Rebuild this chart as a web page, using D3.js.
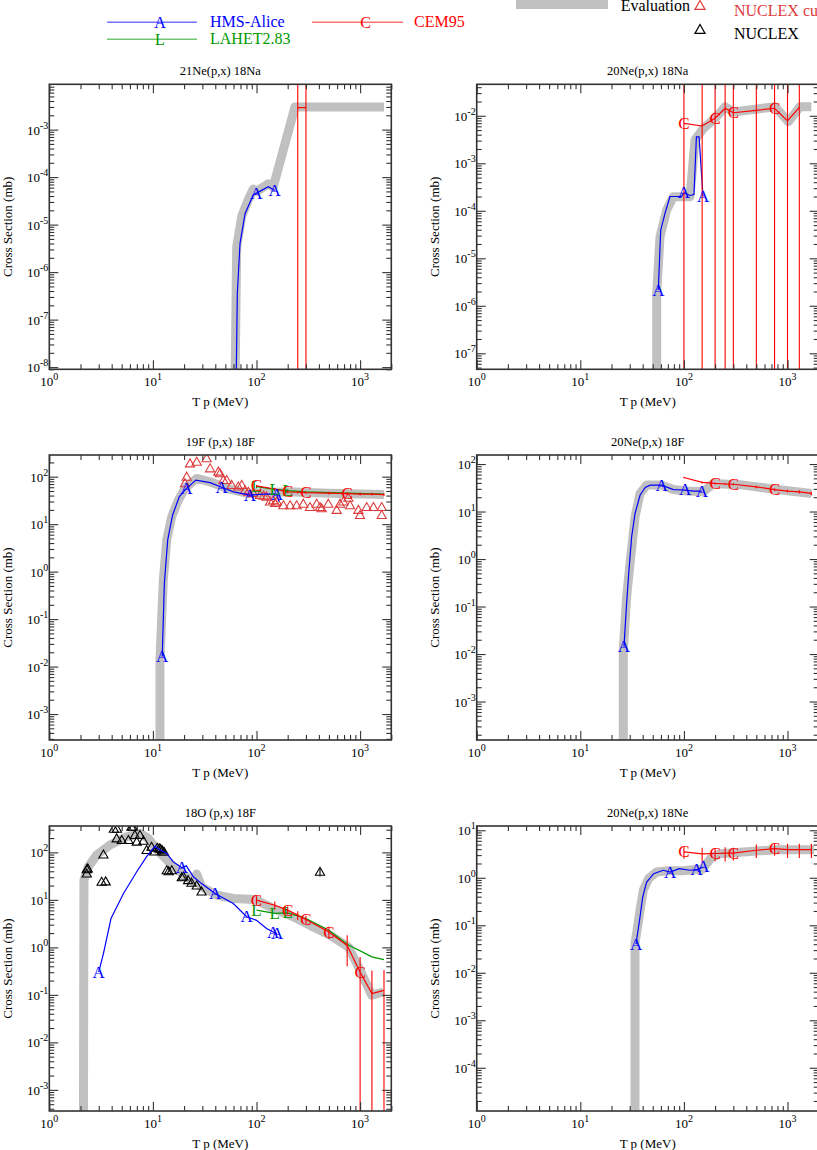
<!DOCTYPE html>
<html><head><meta charset="utf-8">
<script src="https://cdn.jsdelivr.net/npm/d3@7"></script>
<style>body{margin:0;background:#fff}svg{display:block}</style>
</head><body>
<svg id="chart" width="817" height="1150"></svg>
<script>
// ---------------- DATA ----------------
const xTickExps = [0, 1, 2, 3];
const cemE = [100, 150, 200, 250, 300, 500, 750, 1000, 1300, 1700];

// Panel 1: 21Ne(p,x) 18Na
const p1EvalE = [61.5, 64.4, 72, 83, 93, 100, 130, 145, 235, 1700];
const p1EvalY = [1e-9, 3.4e-6, 1.5e-5, 3.3e-5, 5.6e-5, 5e-5, 7.2e-5, 6.2e-5, 3.0e-3, 3.0e-3];
const p1HmsE = [63, 65.3, 69.3, 77.5, 93, 100, 130, 150];
const p1HmsY = [1e-9, 3.6e-7, 4e-6, 1.7e-5, 4.2e-5, 4.6e-5, 6.3e-5, 5.2e-5];
const p1HmsMk = [100, 150];
const p1CemE = [250, 300];
const p1CemY = [2.9e-3, 2.9e-3];
const p1CemErr = [0.05, 0.05];
const p1CemMk = [];

// Panel 2: 20Ne(p,x) 18Na
const p2EvalE = [54.6, 54.6, 58.8, 68.2, 79, 114.5, 128, 154, 200, 250, 300, 757, 1018, 1319, 1700];
const p2EvalY = [1e-9, 1.8e-6, 2.85e-5, 1.04e-4, 1.98e-4, 1.98e-4, 3.1e-3, 5.4e-3, 8.9e-3, 1.55e-2, 1.2e-2, 1.55e-2, 7.5e-3, 1.55e-2, 1.55e-2];
const p2HmsE = [56.6, 59.7, 65.7, 73.4, 85.2, 95, 100, 114.5, 125, 132, 140, 153];
const p2HmsY = [2.15e-6, 3.9e-5, 8.8e-5, 2.0e-4, 2.0e-4, 2.0e-4, 2.4e-4, 2.1e-4, 2.2e-4, 3.6e-3, 3.6e-3, 2.0e-4];
const p2HmsMk = [56.6, 100, 153];
const p2CemE = [100, 150, 200, 250, 300, 500, 750, 1000, 1300];
const p2CemY = [6.9e-3, 6.1e-3, 8.9e-3, 1.44e-2, 1.16e-2, 1.3e-2, 1.44e-2, 7.8e-3, 1.5e-2];
const p2CemErr = [0.1, 0.1, 0.1, 0.1, 0.1, 0.1, 0.1, 0.1, 0.1];
const p2CemMk = [100, 200, 300, 750];

// Panel 3: 19F (p,x) 18F
const p3EvalE = [11.7, 11.7, 12.6, 13.6, 15.2, 17.6, 20.4, 26.5, 35.6, 51.5, 80, 125, 200, 500, 1700];
const p3EvalY = [1e-5, 0.0138, 0.67, 4.66, 14.4, 32, 57, 92, 78, 57, 45, 46, 48, 45, 42];
const p3HmsE = [12.3, 12.9, 13.9, 15.5, 18, 21, 26, 35.6, 46, 60, 86.5, 116, 157, 165];
const p3HmsY = [0.0163, 0.57, 4.66, 15.6, 38, 56, 85, 75, 60, 48, 41, 43, 43, 30];
const p3HmsMk = [12.3, 21, 46, 86.5, 157];
const p3NucE = [20.4, 21.2, 22.8, 26.5, 33, 35.6, 42.8, 44.4, 47.9, 51.5, 57.6, 66.8, 72, 77.5, 83.4, 93, 108, 117, 125, 135, 145, 152, 157, 182, 211, 244, 283, 328, 381, 410, 426, 493, 594, 640, 689, 770, 800, 962, 998, 1158, 1344, 1616, 1616];
const p3NucY = [73, 100, 191, 207, 244, 150, 128, 118, 85, 85, 67, 62, 67, 52, 48, 45, 41, 40, 38, 30, 32, 28, 30, 25, 25, 25, 27, 23, 27, 23, 21.6, 27, 20, 27, 30, 36, 25, 20, 15.6, 23, 23, 23, 15.6];
const p3LahE = [100, 150, 200, 300, 750, 1700];
const p3LahY = [62, 54, 51, 48, 45, 43];
const p3LahErr = [5, 4.5, 4, 0, 0, 0];
const p3LahMk = [100, 150, 200];
const p3CemY = [64, 55, 48, 47, 46, 45, 44, 43, 43, 42];
const p3CemErr = [3, 3, 3, 3, 3, 3, 3, 3, 3, 3];
const p3CemMk = [100, 200, 300, 750];

// Panel 4: 20Ne(p,x) 18F
const p4EvalE = [26, 26, 28, 30.2, 33.8, 37.7, 43.7, 61, 79, 106, 154, 192, 374, 787, 1700];
const p4EvalY = [1e-5, 0.0122, 0.16, 0.81, 7.8, 24, 36, 36, 29, 27, 26, 39, 36, 29, 24];
const p4HmsE = [26.4, 28, 29.5, 31.3, 33.8, 37.7, 42.3, 47.3, 61, 79, 102.6, 123, 149];
const p4HmsY = [0.0143, 0.117, 0.59, 2.95, 9.2, 22, 32, 36, 36, 29, 28.4, 27, 27];
const p4HmsMk = [26.4, 61, 102.6, 149];
const p4CemY = [52, 41, 39, 38, 37.5, 33, 29, 27, 26, 24];
const p4CemErr = [2, 2, 2, 2, 2, 2, 2, 2, 2, 2];
const p4CemMk = [200, 300, 750];

// Panel 5: 18O (p,x) 18F
const p5EvalE = [2.13, 2.16, 2.38, 2.87, 3.85, 5.6, 7.5, 9.0, 10.9, 14.6, 21.2, 24.6, 26.5, 29.5, 41.3, 59.7, 96.8, 145, 227, 353, 512, 771, 1000, 1295, 1675];
const p5EvalY = [1e-5, 26, 50, 88, 143, 213, 252, 197, 116, 59, 30, 24, 35, 18.8, 12.6, 10.7, 10.2, 6.6, 4.4, 2.7, 1.8, 1.02, 0.33, 0.098, 0.115];
const p5HmsE = [3.0, 3.33, 3.94, 5.2, 6.98, 8.7, 10.5, 11.7, 13.6, 15.7, 19, 21, 24.6, 29.5, 39.8, 59.7, 80.4, 100, 125, 145, 158];
const p5HmsY = [0.3, 0.74, 4.05, 13.6, 39, 81, 135, 112, 95, 63, 48, 52, 30.6, 22, 13.6, 8.4, 4.4, 3.7, 2.5, 2.1, 1.95];
const p5HmsMk = [3.0, 19, 39.8, 80.4, 145, 158];
const p5NucE = [2.3, 2.35, 2.3, 3.2, 3.5, 3.33, 4.2, 4.5, 4.47, 5.0, 5.8, 6.2, 6.4, 6.7, 6.98, 7.5, 8.1, 8.7, 9.7, 10.3, 11, 11.5, 11.9, 12.3, 12.8, 13.6, 14.2, 15.2, 19, 19.7, 21.9, 23.6, 26.5, 29.5, 410];
const p5NucY = [36, 46, 44, 24, 24.5, 90, 315, 315, 197, 182, 182, 345, 345, 232, 168, 232, 176, 112, 131, 104, 125, 122, 118, 110, 103, 42, 40, 42, 30, 31, 26, 23, 20, 15, 39];
const p5NucErr = [0, 0, 0, 0, 0, 0, 0, 0, 0, 0, 0, 0, 0, 0, 0, 0, 0, 0, 0, 0, 0, 0, 0, 0, 0, 0, 0, 0, 0, 0, 0, 0, 0, 0, 8];
const p5LahE = [100, 150, 200, 300, 500, 750, 1300, 1700];
const p5LahY = [6.07, 5.2, 5.3, 4.06, 2.3, 1.16, 0.63, 0.55];
const p5LahMk = [100, 150, 200];
const p5CemY = [9.9, 7.7, 6.07, 4.75, 3.85, 2.1, 1.1, 0.30, 0.106, 0.124];
const p5CemErr = [2.0, 1.5, 1.2, 1.0, 0.8, 0.6, 0.7, 0.33, 0.22, 0.21];
const p5CemMk = [100, 200, 300, 500, 1000];

// Panel 6: 20Ne(p,x) 18Ne
const p6EvalE = [33.7, 33.7, 37.7, 40.6, 45.6, 54.6, 71, 98, 128, 150, 185, 222, 374, 787, 1800];
const p6EvalY = [1e-6, 0.041, 0.207, 0.55, 0.96, 1.32, 1.4, 1.4, 1.5, 1.5, 2.7, 3.2, 3.5, 3.9, 3.9];
const p6HmsE = [34.5, 37.7, 40, 43.7, 51, 63, 73.5, 90, 114, 133, 154];
const p6HmsY = [0.04, 0.15, 0.39, 0.81, 1.22, 1.44, 1.32, 1.56, 1.44, 1.48, 1.69];
const p6HmsMk = [34.5, 73.5, 133, 154];
const p6CemY = [3.5, 3.2, 3.24, 3.3, 3.3, 3.8, 4.1, 3.9, 3.9, 3.9];
const p6CemErr = [1.0, 1.1, 1.0, 1.1, 1.0, 1.2, 1.2, 1.3, 1.3, 1.3];
const p6CemMk = [100, 200, 300, 750];

const titles = ["21Ne(p,x) 18Na", "20Ne(p,x) 18Na", "19F (p,x) 18F", "20Ne(p,x) 18F", "18O (p,x) 18F", "20Ne(p,x) 18Ne"];
const yExpRanges = [[-8.046, -2.046], [-7.337, -1.337], [-3.547, 2.457], [-3.81, 2.19], [-3.445, 2.555], [-4.91, 1.09]];

// ---------------- STYLE / LAYOUT ----------------
const FONT = "'Liberation Serif','Times New Roman',serif";
const C_BLUE = "#0000ff", C_RED = "#ff0000", C_GREEN = "#009900", C_GREY = "#c0c0c0", C_NUC = "#dc3c3c";
const W = 342, H = 285;
const lefts = [49.3, 476.7], tops = [84.3, 455, 826];

const zip = (a, b) => a.map((v, i) => [v, b[i]]);

const panels = [
  {evalD: zip(p1EvalE, p1EvalY), hms: {d: zip(p1HmsE, p1HmsY), mk: p1HmsMk},
   cem: {d: zip(p1CemE, p1CemY), err: p1CemErr, mk: p1CemMk}},
  {evalD: zip(p2EvalE, p2EvalY), hms: {d: zip(p2HmsE, p2HmsY), mk: p2HmsMk},
   cem: {d: zip(p2CemE, p2CemY), err: p2CemErr, mk: p2CemMk}},
  {evalD: zip(p3EvalE, p3EvalY), hms: {d: zip(p3HmsE, p3HmsY), mk: p3HmsMk},
   nuc: {d: zip(p3NucE, p3NucY), color: C_NUC},
   lah: {d: zip(p3LahE, p3LahY), err: p3LahErr, mk: p3LahMk},
   cem: {d: zip(cemE, p3CemY), err: p3CemErr, mk: p3CemMk}},
  {evalD: zip(p4EvalE, p4EvalY), hms: {d: zip(p4HmsE, p4HmsY), mk: p4HmsMk},
   cem: {d: zip(cemE, p4CemY), err: p4CemErr, mk: p4CemMk}},
  {evalD: zip(p5EvalE, p5EvalY), hms: {d: zip(p5HmsE, p5HmsY), mk: p5HmsMk},
   nuc: {d: zip(p5NucE, p5NucY), err: p5NucErr, color: "#000"},
   lah: {d: zip(p5LahE, p5LahY), mk: p5LahMk},
   cem: {d: zip(cemE, p5CemY), err: p5CemErr, mk: p5CemMk}},
  {evalD: zip(p6EvalE, p6EvalY), hms: {d: zip(p6HmsE, p6HmsY), mk: p6HmsMk},
   cem: {d: zip(cemE, p6CemY), err: p6CemErr, mk: p6CemMk}}
];

const svg = d3.select("#chart");
const defs = svg.append("defs");

function logTicks(lo, hi) {
  const major = [], minor = [];
  for (let d = Math.floor(Math.log10(lo)) - 1; d <= Math.ceil(Math.log10(hi)); d++) {
    for (let m = 1; m < 10; m++) {
      const v = m * Math.pow(10, d);
      if (v >= lo * 0.9999 && v <= hi * 1.0001) (m === 1 ? major : minor).push(v);
    }
  }
  return {major, minor};
}

const triPath = "M0,-4.5L4.6,3.5L-4.6,3.5Z";

panels.forEach((p, i) => {
  const left = lefts[i % 2], top = tops[Math.floor(i / 2)];
  const ye = yExpRanges[i];
  const x = d3.scaleLog().domain([1, 2000]).range([left, left + W]);
  const y = d3.scaleLog().domain([Math.pow(10, ye[0]), Math.pow(10, ye[1])]).range([top + H, top]);
  const g = svg.append("g");
  const cid = "clip" + i;
  defs.append("clipPath").attr("id", cid).append("rect")
    .attr("x", left).attr("y", top).attr("width", W).attr("height", H);
  const data = g.append("g").attr("clip-path", `url(#${cid})`);
  const line = d3.line().x(d => x(d[0])).y(d => y(d[1]));

  // evaluation
  data.append("path").datum(p.evalD).attr("d", line).attr("fill", "none")
    .attr("stroke", C_GREY).attr("stroke-width", 9).attr("stroke-linejoin", "round");

  // error bars helper (plain vertical bars, as in the reference)
  function errBars(series, color) {
    if (!series.err) return;
    series.d.forEach((d, k) => {
      const e = series.err[k];
      if (!e) return;
      const hiV = d[1] + e, loV = d[1] - e;
      const yh = y(hiV);
      const yl = loV > 0 ? y(loV) : top + H + 20;
      const xx = x(d[0]);
      data.append("line").attr("x1", xx).attr("x2", xx).attr("y1", yh).attr("y2", yl)
        .attr("stroke", color).attr("stroke-width", 1.1);
    });
  }
  function glyphs(series, ch, color) {
    if (!series.mk) return;
    series.d.filter(d => series.mk.includes(d[0])).forEach(d => {
      g.append("text").attr("x", x(d[0])).attr("y", y(d[1]))
        .attr("text-anchor", "middle").attr("dominant-baseline", "central")
        .attr("font-family", FONT).attr("font-size", 17).attr("fill", color).text(ch);
    });
  }

  // NUCLEX triangles
  if (p.nuc) {
    errBars(p.nuc, p.nuc.color);
    data.selectAll(null).data(p.nuc.d).enter().append("path")
      .attr("d", triPath).attr("transform", d => `translate(${x(d[0])},${y(d[1])})`)
      .attr("fill", "none").attr("stroke", p.nuc.color).attr("stroke-width", 1.1);
  }
  // HMS-Alice
  data.append("path").datum(p.hms.d).attr("d", line).attr("fill", "none")
    .attr("stroke", C_BLUE).attr("stroke-width", 1.2);
  glyphs(p.hms, "A", C_BLUE);
  // LAHET
  if (p.lah) {
    data.append("path").datum(p.lah.d).attr("d", line).attr("fill", "none")
      .attr("stroke", C_GREEN).attr("stroke-width", 1.2);
    errBars(p.lah, C_GREEN);
    glyphs(p.lah, "L", C_GREEN);
  }
  // CEM95
  data.append("path").datum(p.cem.d).attr("d", line).attr("fill", "none")
    .attr("stroke", C_RED).attr("stroke-width", 1.2);
  errBars(p.cem, C_RED);
  glyphs(p.cem, "C", C_RED);

  // axes (inward ticks)
  const xt = logTicks(1, 2000), yt = logTicks(y.domain()[0], y.domain()[1]);
  const axes = g.append("g");
  const mk = (axisFn, vals, size, tr) => {
    const a = axes.append("g").attr("transform", tr)
      .call(axisFn.tickValues(vals).tickSize(-size).tickFormat(""));
    a.select(".domain").remove();
    a.selectAll("line").attr("stroke", "#333").attr("stroke-width", 1.1);
  };
  mk(d3.axisBottom(x), xt.minor, 5, `translate(0,${top + H})`);
  mk(d3.axisBottom(x), xt.major, 9, `translate(0,${top + H})`);
  mk(d3.axisTop(x), xt.minor, 5, `translate(0,${top})`);
  mk(d3.axisTop(x), xt.major, 9, `translate(0,${top})`);
  mk(d3.axisLeft(y), yt.minor, 5, `translate(${left},0)`);
  mk(d3.axisLeft(y), yt.major, 9, `translate(${left},0)`);
  mk(d3.axisRight(y), yt.minor, 5, `translate(${left + W},0)`);
  mk(d3.axisRight(y), yt.major, 9, `translate(${left + W},0)`);
  g.append("rect").attr("x", left).attr("y", top).attr("width", W).attr("height", H)
    .attr("fill", "none").attr("stroke", "#333").attr("stroke-width", 1.6);

  // tick labels
  xTickExps.forEach(e => {
    const t = g.append("text").attr("x", x(Math.pow(10, e))).attr("y", top + H + 17)
      .attr("text-anchor", "middle").attr("font-family", FONT).attr("font-size", 13).attr("fill", "#000");
    t.append("tspan").text("10");
    t.append("tspan").attr("dy", -6).attr("font-size", 10).text(String(e));
  });
  yt.major.forEach(v => {
    const e = Math.round(Math.log10(v));
    const t = g.append("text").attr("x", left - 1).attr("y", y(v) + 5)
      .attr("text-anchor", "end").attr("font-family", FONT).attr("font-size", 13).attr("fill", "#000");
    t.append("tspan").text("10");
    t.append("tspan").attr("dy", -6).attr("font-size", 10).text(e < 0 ? "-" + (-e) : String(e));
  });

  // titles
  g.append("text").attr("x", left + W / 2).attr("y", top - 9.3).attr("text-anchor", "middle")
    .attr("font-family", FONT).attr("font-size", 12.5).text(titles[i]);
  g.append("text").attr("x", left + W / 2).attr("y", top + H + 37).attr("text-anchor", "middle")
    .attr("font-family", FONT).attr("font-size", 13).text("T p (MeV)");
  g.append("text").attr("transform", `translate(${left - 37.5},${top + H / 2}) rotate(-90)`)
    .attr("text-anchor", "middle").attr("font-family", FONT).attr("font-size", 13)
    .text("Cross Section (mb)");
});

// ---------------- LEGEND ----------------
const leg = svg.append("g").attr("font-family", FONT).attr("font-size", 16);
const legLines = [
  {x1: 107, x2: 197, y: 22.3, color: C_BLUE, ch: "A", label: "HMS-Alice", tx: 210},
  {x1: 312, x2: 403, y: 22.3, color: C_RED, ch: "C", label: "CEM95", tx: 414},
  {x1: 107, x2: 197, y: 39.3, color: C_GREEN, ch: "L", label: "LAHET2.83", tx: 210}
];
legLines.forEach(l => {
  leg.append("line").attr("x1", l.x1).attr("x2", l.x2).attr("y1", l.y).attr("y2", l.y)
    .attr("stroke", l.color).attr("stroke-width", 1.6).attr("opacity", 0.55);
  leg.append("text").attr("x", (l.x1 + l.x2) / 2 + 8).attr("y", l.y).attr("text-anchor", "middle")
    .attr("dominant-baseline", "central").attr("fill", l.color).text(l.ch);
  leg.append("text").attr("x", l.tx).attr("y", l.y + 5).attr("fill", l.color).text(l.label);
});
leg.append("line").attr("x1", 516).attr("x2", 608).attr("y1", 4.5).attr("y2", 4.5)
  .attr("stroke", C_GREY).attr("stroke-width", 9);
leg.append("text").attr("x", 690).attr("y", 11).attr("text-anchor", "end").attr("fill", "#000").text("Evaluation");
leg.append("path").attr("d", triPath).attr("transform", "translate(700,5.5) scale(1.1)")
  .attr("fill", "none").attr("stroke", C_NUC).attr("stroke-width", 1.1);
leg.append("text").attr("x", 734).attr("y", 16).attr("fill", C_NUC).text("NUCLEX cum");
leg.append("path").attr("d", triPath).attr("transform", "translate(700,29.5) scale(1.1)")
  .attr("fill", "none").attr("stroke", "#000").attr("stroke-width", 1.1);
leg.append("text").attr("x", 734).attr("y", 38.5).attr("fill", "#000").text("NUCLEX");
</script>
</body></html>
